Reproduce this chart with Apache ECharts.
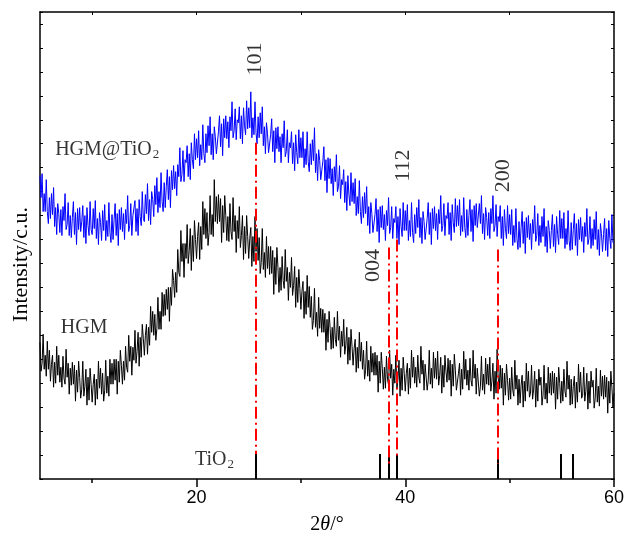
<!DOCTYPE html>
<html><head><meta charset="utf-8">
<script src="https://cdn.jsdelivr.net/npm/echarts@6/dist/echarts.min.js"></script>
<style>html,body{margin:0;padding:0;background:#fff}#c{width:627px;height:540px}</style>
</head><body><div id="c"></div>
<script>
// 2θ sampling grid of the scans (degrees)
const twoThetaStart = 5.0, twoThetaStep = 0.1;
// Intensity (arbitrary, stacked offset units) — HGM@TiO2 (blue), one row per degree from 5°
const hgmTiO2 = [
304,282,306,268,286,268,300,268,256,282,
261,286,265,292,253,272,245,276,266,247,
270,244,273,259,286,250,255,277,244,264,
242,262,278,245,267,235,271,250,272,248,
258,274,242,264,236,272,254,244,278,250,
245,271,251,279,241,261,235,267,257,239,
269,249,275,239,259,243,277,247,237,265,
240,260,276,244,266,234,270,250,272,248,
266,240,270,256,284,248,254,276,244,264,
262,279,248,271,244,280,263,254,288,261,
258,285,266,296,259,280,255,288,280,263,
294,275,302,267,288,272,307,278,268,297,
272,293,310,280,303,272,309,290,314,291,
308,284,315,303,332,298,305,329,298,320,
317,334,303,326,300,337,320,311,346,320,
341,322,349,314,335,320,355,326,317,346,
327,354,334,363,325,346,320,353,343,326,
327,348,364,333,356,324,361,342,364,341,
358,332,363,349,378,342,349,371,340,360,
357,373,341,364,336,372,354,345,379,351,
372,352,388,342,362,345,378,347,336,363,
342,367,346,373,334,353,326,357,346,327,
326,345,361,328,349,317,352,331,353,328,
343,317,346,332,359,323,328,350,317,337,
332,348,316,337,309,345,327,316,350,322,
342,322,348,312,331,315,348,318,308,336,
315,340,319,352,307,326,299,330,319,300,
299,318,333,299,320,287,322,301,321,296,
311,284,313,298,325,288,293,314,281,300,
295,310,277,298,269,304,285,274,307,278,
297,276,301,264,283,266,299,268,256,283,
262,287,266,293,254,273,246,277,266,247,
246,265,281,248,270,237,273,252,274,250,
265,239,269,254,282,246,252,273,241,261,
257,273,241,263,235,271,253,243,277,249,
269,249,275,239,259,243,277,247,237,265,
246,272,252,280,242,262,236,268,258,240,
241,261,277,245,267,235,271,251,273,249,
266,240,270,256,284,248,254,276,244,264,
261,277,245,267,239,275,257,247,281,253,
274,254,280,244,264,248,282,252,242,270,
244,264,280,248,270,238,274,254,276,252,
250,276,256,284,246,266,240,272,262,244,
267,241,271,256,284,248,254,275,243,263,
258,274,241,263,234,270,251,241,274,246,
265,245,270,234,254,237,271,241,230,258,
232,252,268,236,258,226,262,242,264,240,
256,230,260,246,274,238,244,266,234,254,
237,263,243,271,233,253,227,259,249,231,
249,265,233,255,227,263,245,235,269,241,
261,241,267,231,251,235,269,239,229,257,
230,250,266,234,256,224,260,240,262,238,
253,227,257,243,271,235,241,263,231,251,
234,260,240,268,230,250,224,256,246,228,
245,261,229,251,223,259,241,231,265,237,
236
];
// Intensity — HGM (black), one row per degree from 5°
const hgm = [
137,108,116,145,110,124,103,138,110,129,
98,115,124,92,117,96,133,104,124,97,
112,92,123,101,95,130,102,116,85,111,
94,117,95,114,78,109,87,118,102,81,
90,118,83,93,110,74,102,79,111,95,
77,95,105,74,100,80,118,91,111,85,
106,78,89,119,86,103,83,120,95,116,
95,120,99,120,85,118,97,129,114,95,
118,99,133,112,107,144,118,133,104,132,
119,149,116,128,147,113,142,122,155,141,
124,144,155,125,152,134,173,147,168,144,
165,139,151,182,150,168,150,187,163,185,
164,190,170,192,158,192,174,210,199,182,
207,187,230,207,203,249,218,236,202,236,
221,255,216,229,251,209,244,218,259,240,
221,243,257,220,253,230,278,245,271,241,
267,234,247,284,245,265,243,300,258,283,
256,285,258,281,237,274,247,284,264,239,
263,238,276,248,240,282,248,264,227,259,
241,273,232,244,264,220,253,226,264,243,
221,241,252,213,243,218,263,228,251,219,
242,206,217,251,210,227,202,243,211,233,
205,233,206,229,185,222,195,232,212,187,
212,189,223,199,191,230,198,212,179,207,
192,222,184,194,213,172,202,177,210,191,
170,188,198,161,188,165,204,172,193,162,
183,150,159,191,152,167,143,182,151,171,
147,170,147,166,129,160,137,168,151,130,
152,131,162,140,133,168,139,153,122,148,
133,160,125,134,152,115,142,119,150,133,
114,131,140,107,132,111,147,118,137,110,
129,100,109,138,103,119,98,133,107,126,
104,127,104,124,87,118,96,127,111,90,
112,91,123,100,94,129,101,115,84,110,
96,124,90,100,119,83,111,89,122,106,
88,106,116,85,111,91,129,102,122,96,
112,92,124,102,96,133,105,119,89,115,
117,89,99,129,95,111,91,127,101,121,
100,128,94,104,122,86,114,92,124,108,
97,121,99,119,83,115,93,125,109,89,
88,106,116,84,110,90,128,100,120,94,
109,89,121,99,93,129,101,115,85,111,
111,83,93,123,89,105,85,121,95,115,
94,122,88,98,116,80,108,86,130,102,
90,114,91,111,74,106,84,115,99,79,
101,80,112,89,83,119,90,104,74,100,
76,94,104,72,98,78,116,88,108,82,
86,114,80,90,108,72,100,78,110,94,
102,74,84,114,80,96,76,112,86,106,
84,108,86,106,70,102,80,112,96,76,
98,78,110,88,82,118,90,104,74,100,
75,93,103,71,97,77,115,87,107,81,
84,112,78,88,106,70,98,76,108,92,
99,71,81,111,77,93,73,109,83,103,
80,104,82,102,66,98,76,108,92,72,
86
];
// TiO2 reference pattern (degrees) and stick height
const tio2Sticks = [25.71, 37.56, 38.42, 39.23, 48.85, 54.86, 56.03];
const stickHeight = 25;
// Indexed reflections: position, dashed guide top/bottom, label
const peakNames = ['101', '004', '112', '200'];
const peakPos = [25.71, 38.42, 39.23, 48.85];
const guideTop = [337, 232, 240, 230];
const guideBottom = [25, 15, 23, 15];
const peakLabelPos = [[25.63, 421], [36.9, 214], [39.77, 314], [49.41, 304]];
// Curve labels
const curveLabels = [
  {text: '{n|HGM@TiO}{s|2}', at: [6.45, 330]},
  {text: '{n|HGM}', at: [7.0, 152]},
  {text: '{n|TiO}{s|2}', at: [19.85, 19]}
];
const xTickLabels = [20, 40, 60];
const xMinorTicks = [10, 30, 50];

function toPairs(arr){ return arr.map((v,i)=>[+(twoThetaStart + i*twoThetaStep).toFixed(2), v]); }

const serif = 'Liberation Serif';
const chart = echarts.init(document.getElementById('c'), null, {renderer:'canvas'});
const axisBase = {type:'value', min:5, max:60, gridIndex:0};
chart.setOption({
  animation:false,
  backgroundColor:'#fff',
  grid:{left:40, right:11, top:12, bottom:60, containLabel:false},
  xAxis:[
    Object.assign({}, axisBase, {position:'bottom',
      axisLine:{show:true, onZero:false, lineStyle:{color:'#000', width:1.5}},
      axisTick:{show:true, inside:false, length:8, customValues:xTickLabels, lineStyle:{color:'#000', width:1.5}},
      axisLabel:{show:true, customValues:xTickLabels, color:'#000', fontSize:18, fontFamily:'Liberation Sans', margin:10},
      splitLine:{show:false},
      name:'{a|2}{b|θ}{a|/°}', nameLocation:'middle', nameGap:36,
      nameTextStyle:{rich:{a:{fontFamily:serif, fontSize:20, color:'#000'}, b:{fontFamily:serif, fontSize:20, fontStyle:'italic', color:'#000'}}}
    }),
    Object.assign({}, axisBase, {position:'bottom',
      axisLine:{show:false, onZero:false},
      axisTick:{show:true, inside:false, length:4, customValues:xMinorTicks, lineStyle:{color:'#000', width:1.5}},
      axisLabel:{show:false}, splitLine:{show:false}}),
    Object.assign({}, axisBase, {position:'top',
      axisLine:{show:true, onZero:false, lineStyle:{color:'#000', width:1.5}},
      axisTick:{show:true, inside:true, length:3, customValues:[10,20,30,40,50], lineStyle:{color:'#000'}},
      axisLabel:{show:false}, splitLine:{show:false}})
  ],
  yAxis:[
    {type:'value', min:0, max:468, interval:24, position:'left',
      axisLine:{show:true, onZero:false, lineStyle:{color:'#000', width:1.5}},
      axisTick:{show:true, inside:true, length:3, lineStyle:{color:'#000'}},
      axisLabel:{show:false}, splitLine:{show:false},
      name:'Intensity/c.u.', nameLocation:'middle', nameGap:8,
      nameTextStyle:{fontFamily:serif, fontSize:22, color:'#000', padding:[0,38,0,0]}},
    {type:'value', min:0, max:468, interval:24, position:'right',
      axisLine:{show:true, onZero:false, lineStyle:{color:'#000', width:1.5}},
      axisTick:{show:true, inside:true, length:3, lineStyle:{color:'#000'}},
      axisLabel:{show:false}, splitLine:{show:false}}
  ],
  series:[
    {type:'line', name:'HGM', data:toPairs(hgm), showSymbol:false, symbol:'none', lineStyle:{color:'#000', width:1}, z:2},
    {type:'line', name:'HGM@TiO2', data:toPairs(hgmTiO2), showSymbol:false, symbol:'none', lineStyle:{color:'#0000ff', width:1}, z:3},
    {type:'lines', coordinateSystem:'cartesian2d', z:4,
      lineStyle:{color:'#000', width:2, opacity:1},
      data:tio2Sticks.map(x=>({coords:[[x,0],[x,stickHeight]]}))},
    {type:'lines', coordinateSystem:'cartesian2d', z:5,
      lineStyle:{color:'#ff0000', width:2, opacity:1, type:[12,4,2,4]},
      data:peakPos.map((x,i)=>({coords:[[x,guideTop[i]],[x,guideBottom[i]]]}))},
    {type:'scatter', symbolSize:0, z:6, silent:true,
      data:peakNames.map((n,i)=>({value:peakLabelPos[i], name:n})),
      label:{show:true, position:'inside', rotate:90, formatter:p=>p.name, color:'#000', fontFamily:serif, fontSize:22}},
    {type:'scatter', symbolSize:0, z:6, silent:true,
      data:curveLabels.map(c=>({value:c.at, name:c.text})),
      label:{show:true, position:'right', distance:0, formatter:p=>p.name,
        rich:{n:{fontFamily:serif, fontSize:20, color:'#000', lineHeight:22},
              s:{fontFamily:serif, fontSize:13, color:'#000', padding:[10,0,0,1], lineHeight:22}}}}
  ]
});
</script></body></html>
